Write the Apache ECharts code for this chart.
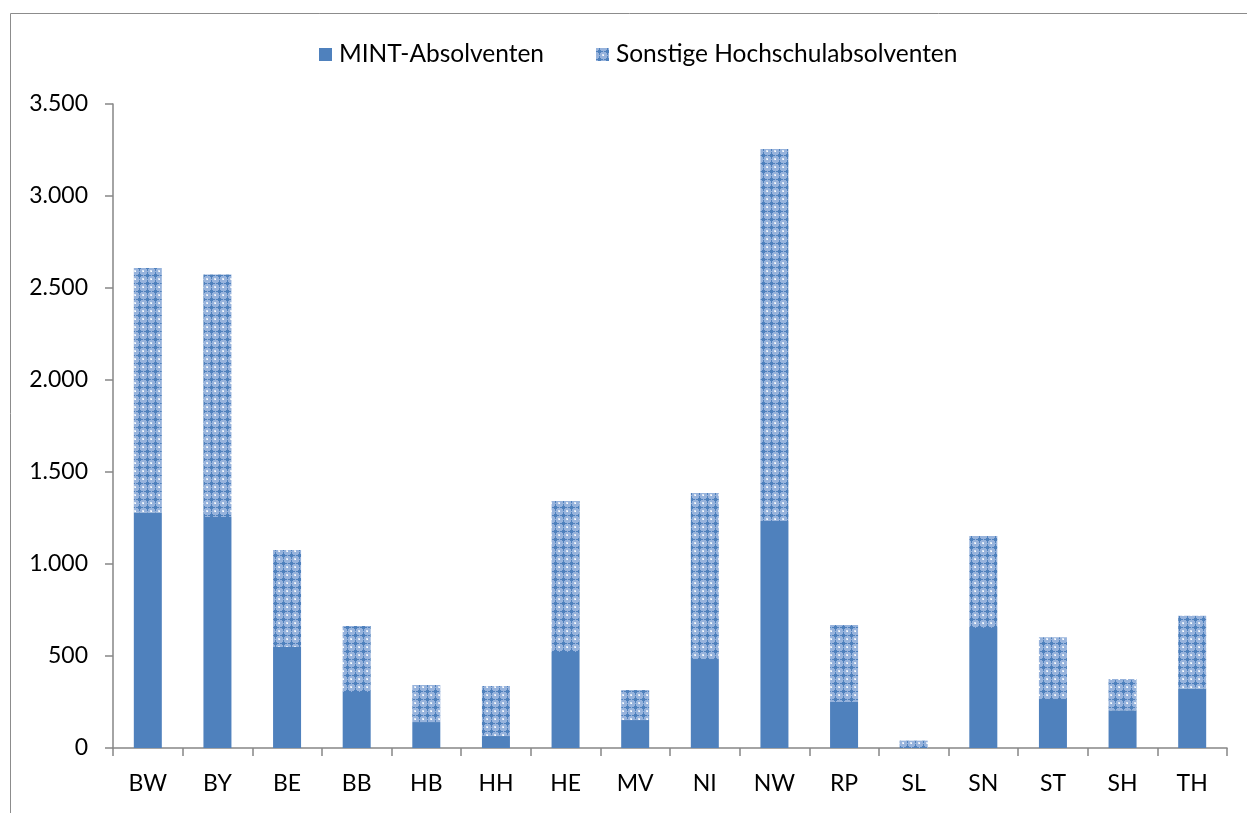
<!DOCTYPE html>
<html>
<head>
<meta charset="utf-8">
<script src="https://cdn.jsdelivr.net/npm/echarts@6/dist/echarts.min.js"></script>
<style>
  html, body { margin: 0; padding: 0; background: #ffffff; }
  #chart { width: 1247px; height: 813px; }
</style>
</head>
<body>
<div id="chart"></div>
<script>
// Bundesländer (Kürzel)
const categories = ['BW', 'BY', 'BE', 'BB', 'HB', 'HH', 'HE', 'MV', 'NI', 'NW', 'RP', 'SL', 'SN', 'ST', 'SH', 'TH'];
// MINT-Absolventen je Land
const mintAbsolventen = [1280, 1255, 549, 304, 141, 65, 522, 152, 484, 1234, 250, 0, 652, 266, 205, 324];
// Sonstige Hochschulabsolventen je Land
const sonstigeAbsolventen = [1329, 1319, 527, 359, 201, 272, 820, 163, 902, 2021, 418, 40, 500, 336, 170, 395];
// Werte der y-Achse
const yTicks = [0, 500, 1000, 1500, 2000, 2500, 3000, 3500];

const FONT = 'Lato, "Open Sans", sans-serif';
const AXIS_GREY = '#868686';
const BLUE = '#4f81bd';

// Gitterfüllung (Rautenmuster) für die sonstigen Absolventen
function makePattern() {
  const c = document.createElement('canvas');
  c.width = 8; c.height = 8;
  const g = c.getContext('2d');
  g.fillStyle = '#97b3dc';
  g.fillRect(0, 0, 8, 8);
  g.fillStyle = BLUE;
  // Kreuz in der Kachelmitte
  g.fillRect(0, 3, 7, 1);
  g.fillRect(3, 0, 1, 7);
  g.fillRect(2, 2, 3, 3);
  // helle Punkte zwischen den Kreuzen
  g.fillStyle = '#dce6f4';
  g.fillRect(6, 6, 2, 2);
  g.fillStyle = '#ffffff';
  g.fillRect(7, 7, 1, 1);
  return c;
}
const pattern = { image: makePattern(), repeat: 'repeat' };

const fmt = v => String(v).replace(/\B(?=(\d{3})+(?!\d))/g, '.');

const chart = echarts.init(document.getElementById('chart'), null, { renderer: 'canvas' });
chart.setOption({
  animation: false,
  backgroundColor: '#ffffff',
  textStyle: { fontFamily: FONT },
  graphic: [{
    type: 'rect',
    shape: { x: 10.5, y: 13.5, width: 1400, height: 1000 },
    style: { fill: 'none', stroke: '#8c8c8c', lineWidth: 1 },
    silent: true
  }],
  legend: {
    top: 37,
    left: 314,
    icon: 'rect',
    itemWidth: 13,
    itemHeight: 13,
    itemGap: 52,
    textStyle: { fontFamily: FONT, fontSize: 24.5, color: '#000000', padding: [0, 0, 0, 2] },
    data: ['MINT-Absolventen', 'Sonstige Hochschulabsolventen']
  },
  grid: { left: 113, right: 20, top: 104, bottom: 65, containLabel: false },
  xAxis: {
    type: 'category',
    data: categories,
    axisLine: { lineStyle: { color: AXIS_GREY, width: 1.5 } },
    axisTick: { show: true, alignWithLabel: false, length: 8, lineStyle: { color: AXIS_GREY, width: 1.5 } },
    axisLabel: { margin: 24, fontFamily: FONT, fontSize: 23, color: '#000000' },
    splitLine: { show: false }
  },
  yAxis: {
    type: 'value',
    min: yTicks[0],
    max: yTicks[yTicks.length - 1],
    interval: yTicks[1] - yTicks[0],
    axisLine: { show: true, lineStyle: { color: AXIS_GREY, width: 1.5 } },
    axisTick: { show: true, length: 8, lineStyle: { color: AXIS_GREY, width: 1.5 } },
    axisLabel: { margin: 25, fontFamily: FONT, fontSize: 23, color: '#000000', formatter: fmt },
    splitLine: { show: false }
  },
  series: [
    {
      name: 'MINT-Absolventen',
      type: 'bar',
      stack: 'gesamt',
      barWidth: 28,
      itemStyle: { color: BLUE },
      data: mintAbsolventen
    },
    {
      name: 'Sonstige Hochschulabsolventen',
      type: 'bar',
      stack: 'gesamt',
      barWidth: 28,
      itemStyle: { color: pattern },
      data: sonstigeAbsolventen
    }
  ]
});
</script>
</body>
</html>
